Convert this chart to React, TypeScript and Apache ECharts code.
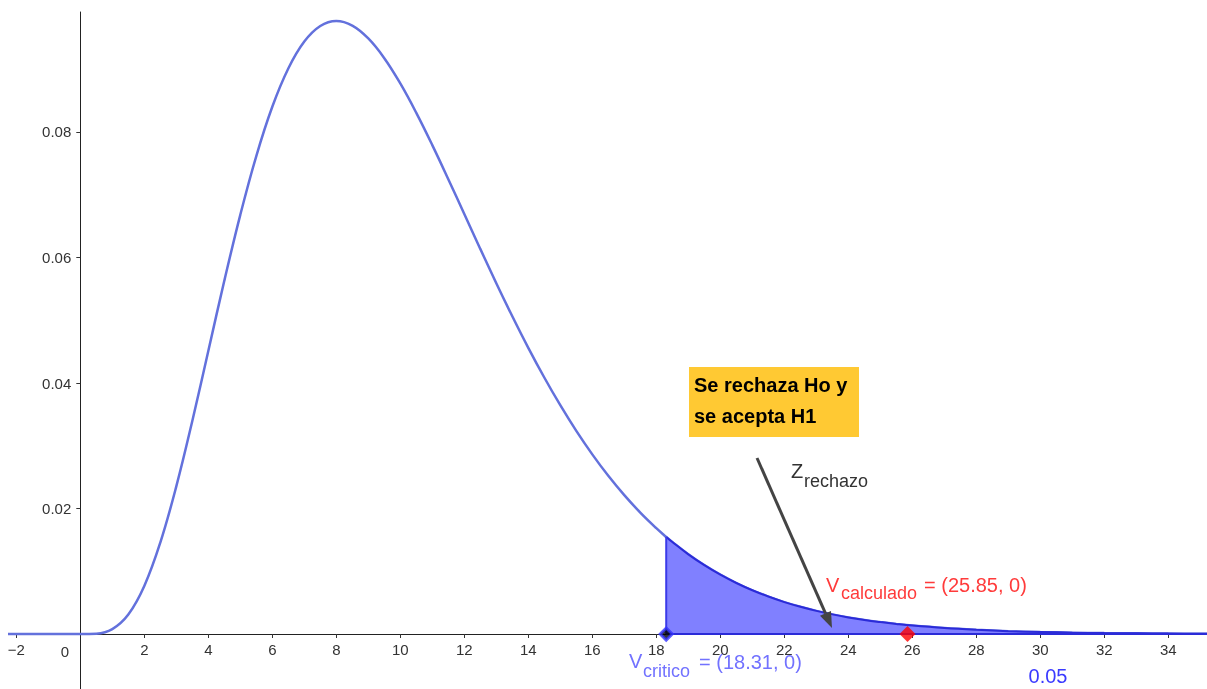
import React, { useEffect, useRef } from "react";
import * as echarts from "echarts";

// Chi-square density curve (x, y)
const curveX = [-2.4, 0, 0.5, 1, 1.5, 2, 2.5, 3, 3.5, 4, 4.5, 5, 5.5, 6, 6.5, 7, 7.5, 8, 8.5, 9, 9.5, 10, 10.5, 11, 11.5, 12, 12.5, 13, 13.5, 14, 14.5, 15, 15.5, 16, 16.5, 17, 17.5, 18, 18.31, 18.5, 19, 19.5, 20, 20.5, 21, 21.5, 22, 22.5, 23, 23.5, 24, 24.5, 25, 25.5, 26, 27, 28, 29, 30, 31, 32, 33, 34, 35, 36];
const curveY = [0, 0, 0.00006, 0.00079, 0.00311, 0.00766, 0.01457, 0.02353, 0.03395, 0.04511, 0.05628, 0.0668, 0.07617, 0.08402, 0.09012, 0.09441, 0.09689, 0.09768, 0.09695, 0.0949, 0.09176, 0.08773, 0.08305, 0.07791, 0.07248, 0.06693, 0.06137, 0.05591, 0.05064, 0.04561, 0.04088, 0.03646, 0.03237, 0.02863, 0.02521, 0.02213, 0.01935, 0.01687, 0.01547, 0.01466, 0.0127, 0.01098, 0.00946, 0.00813, 0.00697, 0.00597, 0.00509, 0.00434, 0.00369, 0.00313, 0.00265, 0.00224, 0.0019, 0.0016, 0.00134, 0.00095, 0.00067, 0.00046, 0.00032, 0.00022, 0.00015, 0.00011, 0.00007, 0.00005, 0.00003];

const criticalValue = 18.31;
const calculatedValue = 25.85;
const xTicks = [-2, 2, 4, 6, 8, 10, 12, 14, 16, 18, 20, 22, 24, 26, 28, 30, 32, 34];
const yTicks = [0.02, 0.04, 0.06, 0.08];

const FONT = "'Liberation Sans', Arial, sans-serif";

export default function App() {
  const ref = useRef<HTMLDivElement>(null);
  useEffect(() => {
    if (!ref.current) return;
    const chart = echarts.init(ref.current, undefined, { renderer: "svg" });
    const curve = curveX.map((x, i) => [x, curveY[i]]);
    const tail = curve.filter((p) => p[0] >= criticalValue);
    const critY = curveY[curveX.indexOf(criticalValue)];

    const txt = (text: string, x: number, y: number, size: number, fill: string, extra: any = {}) => ({
      type: "text",
      x,
      y,
      z: 100,
      style: { text, fill, font: `${extra.weight || "normal"} ${size}px ${FONT}`, textAlign: extra.align || "left", textVerticalAlign: "middle" },
    });

    chart.setOption({
      animation: false,
      grid: { left: 10, right: 0, top: 12, bottom: 0, containLabel: false, outerBoundsMode: "none" },
      xAxis: {
        type: "value",
        min: -2.197,
        max: 35.21,
        position: "bottom",
        offset: -55,
        splitLine: { show: false },
        axisLine: { onZero: false, lineStyle: { color: "#222", width: 1 } },
        axisTick: { show: true, length: 4, customValues: xTicks, lineStyle: { color: "#333" } },
        axisLabel: {
          customValues: xTicks,
          margin: 8,
          color: "#333",
          fontSize: 15,
          fontFamily: FONT,
          hideOverlap: false,
          formatter: (v: number) => (v < 0 ? "\u2212" + Math.abs(v) : String(v)),
        },
      },
      yAxis: {
        type: "value",
        min: -0.00876,
        max: 0.09912,
        position: "left",
        offset: -70.3,
        splitLine: { show: false },
        axisLine: { onZero: false, lineStyle: { color: "#222", width: 1 } },
        axisTick: { show: true, length: 4, customValues: yTicks, lineStyle: { color: "#333" } },
        axisLabel: {
          customValues: yTicks,
          margin: 9,
          color: "#333",
          fontSize: 15,
          fontFamily: FONT,
          formatter: (v: number) => v.toFixed(2),
        },
      },
      series: [
        {
          type: "line",
          data: curve,
          smooth: 0.4,
          symbol: "none",
          lineStyle: { color: "#6371DC", width: 2.5 },
          z: 3,
        },
        {
          type: "line",
          data: tail,
          smooth: 0.4,
          symbol: "none",
          lineStyle: { color: "#2B2BD8", width: 2 },
          areaStyle: { color: "#8080FF", opacity: 1, origin: 0 },
          z: 4,
        },
        {
          type: "line",
          data: [[criticalValue, 0], [criticalValue, critY]],
          symbol: "none",
          lineStyle: { color: "#3B3BE8", width: 2 },
          z: 5,
        },
        {
          type: "line",
          data: [[criticalValue, 0], [36, 0]],
          symbol: "none",
          lineStyle: { color: "#2B2BD8", width: 2 },
          z: 5,
        },
        {
          type: "scatter",
          data: [[calculatedValue, 0]],
          symbol: "diamond",
          symbolSize: 16,
          itemStyle: { color: "#FF0000" },
          z: 6,
        },
        {
          type: "scatter",
          data: [[criticalValue, 0]],
          symbol: "diamond",
          symbolSize: 12,
          itemStyle: { color: "#000", borderColor: "#3333FF", borderWidth: 3 },
          z: 6,
        },
      ],
      graphic: [
        txt("0", 65, 651, 15, "#333", { align: "center" }),
        // critical value label
        txt("V", 629, 661, 20, "#7272FF"),
        txt("critico", 643, 671, 18, "#7272FF"),
        txt("= (18.31, 0)", 699, 662, 20, "#7272FF"),
        // calculated value label
        txt("V", 826, 585, 20, "#FF3B3B"),
        txt("calculado", 841, 593, 18, "#FF3B3B"),
        txt("= (25.85, 0)", 924, 585, 20, "#FF3B3B"),
        // alpha
        txt("0.05", 1048, 676, 20, "#3A3AFF", { align: "center" }),
        // box
        {
          type: "rect",
          shape: { x: 689, y: 367, width: 170, height: 70 },
          style: { fill: "#FFC933" },
          z: 90,
        },
        txt("Se rechaza Ho y", 694, 385, 20, "#000", { weight: "bold" }),
        txt("se acepta H1", 694, 416, 20, "#000", { weight: "bold" }),
        // Z rechazo
        txt("Z", 791, 471, 20, "#333"),
        txt("rechazo", 804, 481, 18, "#333"),
        // arrow
        {
          type: "line",
          shape: { x1: 757, y1: 458, x2: 825.5, y2: 613.4 },
          style: { stroke: "#444", lineWidth: 3 },
          z: 95,
        },
        {
          type: "polygon",
          shape: { points: [[832, 628], [831, 611], [820, 615.8]] },
          style: { fill: "#444" },
          z: 95,
        },
      ],
    });
    return () => chart.dispose();
  }, []);
  return <div ref={ref} style={{ position: "fixed", left: 0, top: 0, width: 1207, height: 689 }} />;
}
